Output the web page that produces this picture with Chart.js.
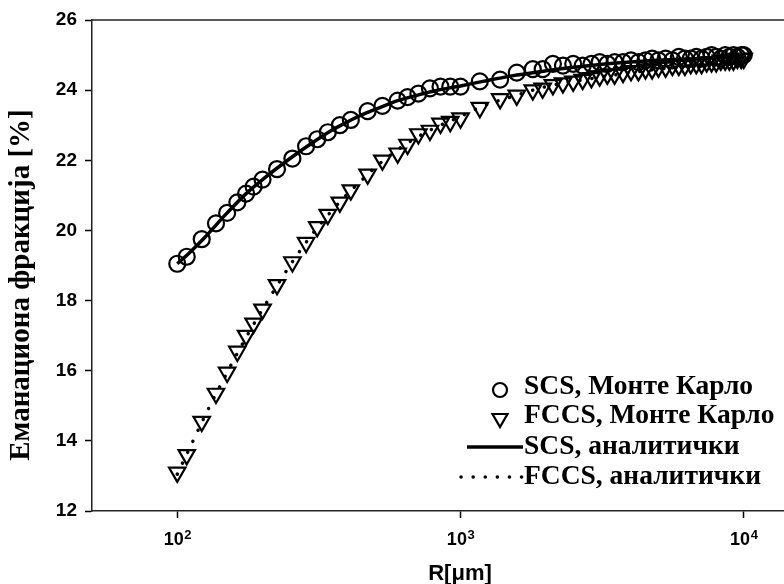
<!DOCTYPE html>
<html lang="sr">
<head>
    <meta charset="UTF-8">
    <title>Еманациона фракција</title>
    <script src="https://cdn.jsdelivr.net/npm/chart.js"></script>
    <style>
        html, body { margin: 0; padding: 0; background: #fff; overflow: hidden; }
        .chart-box { position: relative; width: 850px; height: 584px; }
    </style>
</head>
<body>
    <!-- the original figure is cut at the right edge, so the canvas is a bit wider than the window -->
    <div class="chart-box">
        <canvas id="emanationChart" width="850" height="584"></canvas>
    </div>

    <script>
        // Monte Carlo radii R [μm] (same R for both packings)
        const mcRadius = [100, 108, 122, 137, 150, 163, 175, 186, 200, 225,
            255, 285, 312, 340, 375, 410, 470, 530, 600, 650,
            710, 780, 850, 920, 1000, 1170, 1380, 1580, 1800, 1950,
            2120, 2300, 2500, 2700, 2900, 3100, 3300, 3500, 3750, 4000,
            4250, 4500, 4750, 5000, 5300, 5600, 5900, 6200, 6500, 6800,
            7100, 7400, 7700, 8000, 8300, 8600, 8900, 9200, 9500, 9800, 10000];

        const scsMonteCarlo = [19.05, 19.25, 19.75, 20.2, 20.5, 20.8, 21.05, 21.25, 21.45, 21.75,
            22.05, 22.4, 22.6, 22.8, 23.0, 23.15, 23.4, 23.55, 23.7, 23.8,
            23.9, 24.05, 24.1, 24.1, 24.1, 24.25, 24.3, 24.5, 24.6, 24.6,
            24.75, 24.7, 24.75, 24.7, 24.75, 24.8, 24.75, 24.8, 24.8, 24.85,
            24.8, 24.85, 24.9, 24.85, 24.9, 24.85, 24.95, 24.9, 24.9, 24.95,
            24.9, 24.95, 25.0, 24.95, 24.9, 25.0, 24.95, 25.0, 24.95, 25.0, 25.0];

        const fccsMonteCarlo = [13.1, 13.6, 14.55, 15.35, 15.95, 16.55, 17.0, 17.35, 17.75, 18.45,
            19.1, 19.65, 20.1, 20.45, 20.8, 21.15, 21.6, 22.0, 22.2, 22.45,
            22.75, 22.85, 23.05, 23.1, 23.2, 23.5, 23.75, 23.85, 24.0, 24.05,
            24.15, 24.2, 24.25, 24.3, 24.35, 24.4, 24.45, 24.45, 24.5, 24.55,
            24.55, 24.6, 24.6, 24.65, 24.65, 24.7, 24.7, 24.7, 24.75, 24.75,
            24.75, 24.8, 24.8, 24.8, 24.85, 24.85, 24.85, 24.85, 24.9, 24.9, 24.9];

        // analytic curves
        const fitRadius = [100, 110, 125, 150, 175, 200, 250, 300, 350, 400, 450, 500, 600,
            700, 800, 1000, 1200, 1500, 2000, 2500, 3000, 4000, 5000, 7000, 10000];
        const scsAnalytic = [19.05, 19.35, 19.8, 20.5, 21.05, 21.45, 22.05, 22.5, 22.85, 23.1, 23.3, 23.45, 23.7,
            23.85, 23.97, 24.12, 24.25, 24.4, 24.55, 24.65, 24.72, 24.8, 24.85, 24.9, 24.95];
        const fccsAnalytic = [13.05, 13.75, 14.7, 15.95, 16.95, 17.75, 19.0, 19.9, 20.55, 21.05, 21.45, 21.8, 22.3,
            22.65, 22.9, 23.25, 23.55, 23.8, 24.1, 24.25, 24.35, 24.5, 24.6, 24.72, 24.85];

        const xTicks = [100, 1000, 10000];
        const xTickExponents = ['2', '3', '4'];
        const legendLabels = ['SCS, Монте Карло', 'FCCS, Монте Карло', 'SCS, аналитички', 'FCCS, аналитички'];
        const yTitle = 'Еманациона фракција [%]';
        const xTitle = 'R[μm]';

        const SANS = '"Liberation Sans", Arial, sans-serif';
        const SERIF = '"Liberation Serif", "Times New Roman", serif';

        function toPoints(xs, ys) {
            return xs.map((x, i) => ({ x: x, y: ys[i] }));
        }

        // top frame line, y title and 10^n tick labels
        const frameAndLabels = {
            id: 'frameAndLabels',
            afterDraw(chart) {
                const { ctx, chartArea } = chart;
                const xScale = chart.scales.x;
                ctx.save();
                ctx.strokeStyle = '#222';
                ctx.lineWidth = 1.5;
                ctx.beginPath();
                ctx.moveTo(chartArea.left, chartArea.top);
                ctx.lineTo(chartArea.right, chartArea.top);
                ctx.stroke();

                ctx.fillStyle = '#000';
                ctx.textBaseline = 'alphabetic';
                xTicks.forEach((v, i) => {
                    const px = xScale.getPixelForValue(v);
                    ctx.font = 'bold 18px ' + SANS;
                    const w10 = ctx.measureText('10').width;
                    ctx.font = 'bold 13px ' + SANS;
                    const wExp = ctx.measureText(xTickExponents[i]).width;
                    const start = px - (w10 + wExp) / 2;
                    ctx.font = 'bold 18px ' + SANS;
                    ctx.textAlign = 'left';
                    ctx.fillText('10', start, 545);
                    ctx.font = 'bold 13px ' + SANS;
                    ctx.fillText(xTickExponents[i], start + w10 + 0.5, 539);
                });

                ctx.font = 'bold 22px ' + SANS;
                ctx.textAlign = 'center';
                ctx.fillText(xTitle, 460, 580);

                ctx.translate(22, 285);
                ctx.rotate(-Math.PI / 2);
                ctx.font = 'bold 29px ' + SERIF;
                ctx.textAlign = 'center';
                ctx.textBaseline = 'middle';
                ctx.fillText(yTitle, 0, 0);
                ctx.restore();
            }
        };

        // legend sits inside the plot, lower right
        const insideLegend = {
            id: 'insideLegend',
            afterDraw(chart) {
                const ctx = chart.ctx;
                const textX = 524;
                const baselines = [394, 423, 454, 484];
                ctx.save();
                ctx.strokeStyle = '#000';
                ctx.fillStyle = '#000';

                // circle
                ctx.lineWidth = 2.2;
                ctx.beginPath();
                ctx.arc(500, 390, 7, 0, Math.PI * 2);
                ctx.stroke();

                // down triangle
                ctx.beginPath();
                ctx.moveTo(492.5, 414);
                ctx.lineTo(507.5, 414);
                ctx.lineTo(500, 427);
                ctx.closePath();
                ctx.stroke();

                // solid line
                ctx.lineWidth = 3.5;
                ctx.beginPath();
                ctx.moveTo(467, 447);
                ctx.lineTo(523, 447);
                ctx.stroke();

                // dotted line
                ctx.lineCap = 'round';
                ctx.setLineDash([0.1, 12]);
                ctx.beginPath();
                ctx.moveTo(461, 477);
                ctx.lineTo(522, 477);
                ctx.stroke();
                ctx.setLineDash([]);

                ctx.font = 'bold 27.5px ' + SERIF;
                ctx.textAlign = 'left';
                ctx.textBaseline = 'alphabetic';
                legendLabels.forEach((label, i) => {
                    ctx.fillText(label, textX, baselines[i]);
                });
                ctx.restore();
            }
        };

        const ctx = document.getElementById('emanationChart').getContext('2d');
        new Chart(ctx, {
            type: 'scatter',
            data: {
                datasets: [
                    {
                        label: legendLabels[0],
                        data: toPoints(mcRadius, scsMonteCarlo),
                        pointStyle: 'circle',
                        pointRadius: 8,
                        borderColor: '#000',
                        borderWidth: 2.2,
                        backgroundColor: 'transparent',
                        showLine: false
                    },
                    {
                        label: legendLabels[1],
                        data: toPoints(mcRadius, fccsMonteCarlo),
                        pointStyle: 'triangle',
                        pointRotation: 180,
                        pointRadius: 9.5,
                        borderColor: '#000',
                        borderWidth: 2.2,
                        backgroundColor: 'transparent',
                        showLine: false
                    },
                    {
                        label: legendLabels[2],
                        data: toPoints(fitRadius, scsAnalytic),
                        showLine: true,
                        pointRadius: 0,
                        borderColor: '#000',
                        borderWidth: 3.5,
                        cubicInterpolationMode: 'monotone'
                    },
                    {
                        label: legendLabels[3],
                        data: toPoints(fitRadius, fccsAnalytic),
                        showLine: true,
                        pointRadius: 0,
                        borderColor: '#000',
                        borderWidth: 3.5,
                        borderDash: [0.1, 12],
                        borderCapStyle: 'round',
                        cubicInterpolationMode: 'monotone'
                    }
                ]
            },
            options: {
                responsive: false,
                devicePixelRatio: 1,
                animation: false,
                layout: { padding: { top: 20, right: 21, left: 0, bottom: 0 } },
                plugins: {
                    legend: { display: false },
                    tooltip: { enabled: false }
                },
                scales: {
                    x: {
                        type: 'logarithmic',
                        min: 50,
                        max: 20000,
                        afterBuildTicks: (scale) => {
                            scale.ticks = xTicks.map(v => ({ value: v }));
                        },
                        afterFit: (scale) => { scale.height = 73; },
                        ticks: {
                            autoSkip: false,
                            maxRotation: 0,
                            // labels with superscripts are drawn by frameAndLabels
                            callback: () => ''
                        },
                        grid: {
                            drawOnChartArea: false,
                            drawTicks: true,
                            tickLength: 7,
                            tickColor: '#000',
                            tickWidth: 1.5
                        },
                        border: { display: true, color: '#222', width: 1.5 }
                    },
                    y: {
                        min: 12,
                        max: 26,
                        afterFit: (scale) => { scale.width = 92; },
                        ticks: {
                            stepSize: 2,
                            padding: 8,
                            color: '#000',
                            font: { family: SANS, size: 19, weight: 'bold' }
                        },
                        grid: {
                            drawOnChartArea: false,
                            drawTicks: true,
                            tickLength: 7,
                            tickColor: '#000',
                            tickWidth: 1.5
                        },
                        border: { display: true, color: '#222', width: 1.5 }
                    }
                }
            },
            plugins: [frameAndLabels, insideLegend]
        });
    </script>
</body>
</html>
